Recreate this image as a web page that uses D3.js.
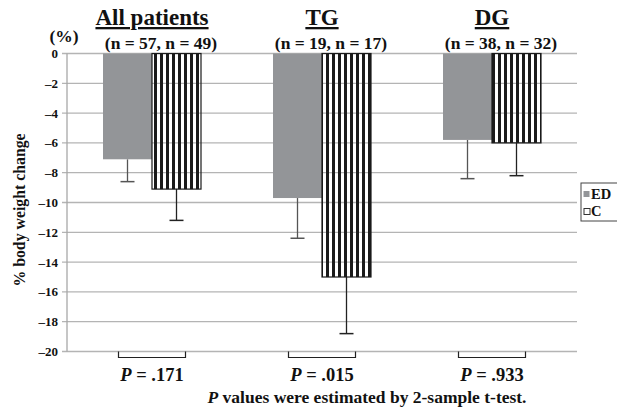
<!DOCTYPE html>
<html>
<head>
<meta charset="utf-8">
<script src="https://cdn.jsdelivr.net/npm/d3@7"></script>
<style>
  body { margin: 0; background: #fff; }
</style>
</head>
<body>
<div id="root"></div>
<script>
"use strict";

// data
var groups = ["All patients", "TG", "DG"];
var groupCounts = ["(n = 57, n = 49)", "(n = 19, n = 17)", "(n = 38, n = 32)"];
var series = ["ED", "C"];
var edMeans = [-7.1, -9.7, -5.8];
var edLower = [-8.6, -12.4, -8.4];
var cMeans = [-9.1, -15.0, -6.0];
var cLower = [-11.2, -18.8, -8.2];
var pValues = [".171", ".015", ".933"];
var yTicks = [0, -2, -4, -6, -8, -10, -12, -14, -16, -18, -20];

var width = 617, height = 409;
var margin = { left: 67, right: 40, top: 53.5, bottom: 57.5 };

var svg = d3.select("#root").append("svg")
    .attr("width", width)
    .attr("height", height);

// vertical stripes for the C bars
var defs = svg.append("defs");

var x0 = d3.scaleBand()
    .domain(groups)
    .range([margin.left, width - margin.right])
    .padding(0);

var bw = x0.bandwidth();
var barW = 49;
var x1 = d3.scaleBand()
    .domain(series)
    .range([(bw - 2 * barW) / 2, (bw + 2 * barW) / 2]);

var y = d3.scaleLinear()
    .domain([-20, 0])
    .range([height - margin.bottom, margin.top]);

var fmt = function (d) { return d < 0 ? "\u2013" + Math.abs(d) : String(d); };

function label(sel, size) {
    return sel.style("font-family", "'Liberation Serif'")
        .style("font-weight", "bold")
        .style("font-size", size + "px")
        .style("fill", "#111");
}

// gridlines
svg.append("g")
    .selectAll("line")
    .data(yTicks)
    .enter()
    .append("line")
    .attr("x1", margin.left - 5)
    .attr("x2", width - margin.right)
    .attr("y1", function (d) { return y(d); })
    .attr("y2", function (d) { return y(d); })
    .style("stroke", "#b4b4b4")
    .style("stroke-width", 1.3);

// y axis line
svg.append("line")
    .attr("x1", margin.left).attr("x2", margin.left)
    .attr("y1", y(0)).attr("y2", y(-20))
    .style("stroke", "#a8a8a8")
    .style("stroke-width", 1.3);

svg.append("g")
    .selectAll("text")
    .data(yTicks)
    .enter()
    .append("text")
    .attr("x", margin.left - 9)
    .attr("y", function (d) { return y(d) + 4.5; })
    .attr("text-anchor", "end")
    .call(label, 13)
    .text(fmt);

// rows for bars
var rows = groups.map(function (g, i) {
    return [
        { group: g, key: "ED", mean: edMeans[i], low: edLower[i] },
        { group: g, key: "C", mean: cMeans[i], low: cLower[i] }
    ];
});

var gBars = svg.selectAll(".grp")
    .data(rows)
    .enter()
    .append("g")
    .classed("grp", true)
    .attr("transform", function (d, i) { return "translate(" + x0(groups[i]) + ",0)"; });

// error bars (behind the bars)
gBars.selectAll(".err")
    .data(function (d) { return d; })
    .enter()
    .append("g")
    .classed("err", true)
    .each(function (d) {
        var cx = x1(d.key) + x1.bandwidth() / 2;
        var col = d.key === "ED" ? "#555" : "#222";
        var g = d3.select(this);
        g.append("line")
            .attr("x1", cx).attr("x2", cx)
            .attr("y1", y(d.mean)).attr("y2", y(d.low))
            .style("stroke", col).style("stroke-width", 1.3);
        g.append("line")
            .attr("x1", cx - 7).attr("x2", cx + 7)
            .attr("y1", y(d.low)).attr("y2", y(d.low))
            .style("stroke", col).style("stroke-width", 1.5);
    });

gBars.each(function (d, i) {
    var gx = x0(groups[i]) + x1("C");
    defs.append("pattern")
        .attr("id", "stripes" + i)
        .attr("patternUnits", "userSpaceOnUse")
        .attr("x", gx + 1)
        .attr("y", 0)
        .attr("width", 6)
        .attr("height", 10)
        .append("rect")
        .attr("width", 3)
        .attr("height", 10)
        .style("fill", "#1a1a1a");
});

gBars.selectAll(".bar")
    .data(function (d) { return d; })
    .enter()
    .append("rect")
    .classed("bar", true)
    .attr("x", function (d) { return x1(d.key); })
    .attr("width", x1.bandwidth())
    .attr("y", y(0))
    .attr("height", function (d) { return y(d.mean) - y(0); })
    .style("fill", function (d) {
        return d.key === "ED" ? "#939598" : "url(#stripes" + groups.indexOf(d.group) + ")";
    })
    .style("stroke", function (d) { return d.key === "ED" ? "none" : "#1a1a1a"; })
    .style("stroke-width", 1.2);

// group titles
gBars.append("text")
    .attr("x", bw / 2)
    .attr("y", 25)
    .attr("text-anchor", "middle")
    .call(label, 23)
    .style("text-decoration", "underline")
    .text(function (d, i) { return groups[i]; });

// the n labels sit a little right of the titles
gBars.append("text")
    .attr("x", bw / 2 + 9)
    .attr("y", 49)
    .attr("text-anchor", "middle")
    .call(label, 17.5)
    .text(function (d, i) { return groupCounts[i]; });

// brackets and p-values under groups
gBars.append("path")
    .attr("d", function () {
        var a = bw / 2 - 33.5, b = bw / 2 + 33.5, t = y(-20), u = y(-20) + 6;
        return "M" + a + "," + t + "V" + u + "H" + b + "V" + t;
    })
    .style("fill", "none")
    .style("stroke", "#222")
    .style("stroke-width", 1.2);

var pText = gBars.append("text")
    .attr("x", bw / 2)
    .attr("y", 381)
    .attr("text-anchor", "middle")
    .call(label, 18.5);
pText.append("tspan").style("font-style", "italic").text("P");
pText.append("tspan").text(function (d, i) { return " = " + pValues[i]; });

// (%) label
svg.append("text")
    .attr("x", 64)
    .attr("y", 42)
    .attr("text-anchor", "middle")
    .call(label, 17.5)
    .text("(%)");

// y axis title
svg.append("text")
    .attr("transform", "translate(25,210) rotate(-90)")
    .attr("text-anchor", "middle")
    .call(label, 15.8)
    .text("% body weight change");

// footnote
var foot = svg.append("text")
    .attr("x", 367)
    .attr("y", 403)
    .attr("text-anchor", "middle")
    .call(label, 17.5);
foot.append("tspan").style("font-style", "italic").text("P");
foot.append("tspan").text(" values were estimated by 2-sample t-test.");

// legend
var lg = svg.append("g").attr("transform", "translate(581,183)");
lg.append("rect")
    .attr("width", 40).attr("height", 38)
    .style("fill", "#fff")
    .style("stroke", "#444")
    .style("stroke-width", 1);
lg.append("rect")
    .attr("x", 2.5).attr("y", 8).attr("width", 6).attr("height", 6)
    .style("fill", "#939598");
lg.append("rect")
    .attr("x", 3).attr("y", 25.5).attr("width", 6).attr("height", 6)
    .style("fill", "#fff").style("stroke", "#333").style("stroke-width", 1);
lg.selectAll(".lt")
    .data(series)
    .enter()
    .append("text")
    .classed("lt", true)
    .attr("x", 10)
    .attr("y", function (d, i) { return 16 + i * 17; })
    .call(label, 14.5)
    .text(function (d) { return d; });
</script>
</body>
</html>
